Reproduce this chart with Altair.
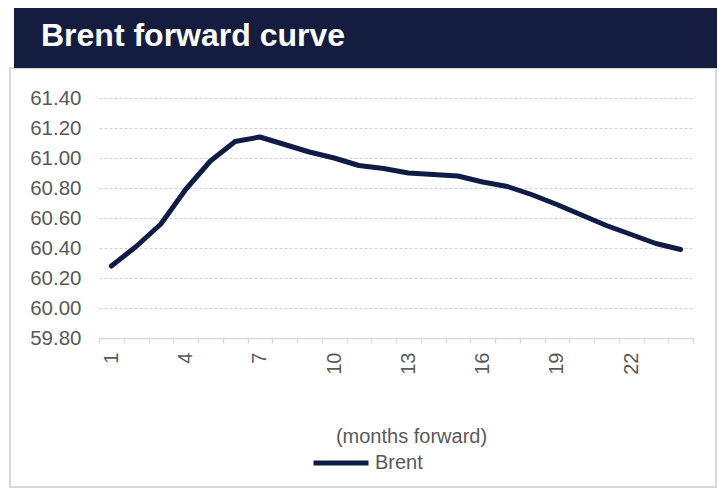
import altair as alt
import pandas as pd

TITLE = "Brent forward curve"
SERIES = "Brent"
X_TITLE = "(months forward)"
months = list(range(1, 25))
prices = [60.28, 60.41, 60.56, 60.79, 60.98, 61.11, 61.14, 61.09, 61.04, 61.00,
          60.95, 60.93, 60.90, 60.89, 60.88, 60.84, 60.81, 60.755, 60.69, 60.62,
          60.55, 60.49, 60.43, 60.39]
y_ticks = [59.8, 60.0, 60.2, 60.4, 60.6, 60.8, 61.0, 61.2, 61.4]
x_label_months = [1, 4, 7, 10, 13, 16, 19, 22]
x_tick_edges = [m - 0.5 for m in months] + [24.5]

df = pd.DataFrame({"month": months, "price": prices, "series": [SERIES] * len(months)})

FONT = "Liberation Sans"
GRAY = "#595959"
NAVY = "#141c40"
LINE = "#0f1c45"

label_set = "[" + ",".join(str(m) for m in x_label_months) + "]"

dummy = alt.Data(values=[{"t": TITLE}])

box = alt.Chart(dummy).mark_rect(fillOpacity=0, stroke="#d9d9d9", strokeWidth=2).encode(
    x=alt.value(-89), x2=alt.value(617), y=alt.value(-30), y2=alt.value(389)
)
banner = alt.Chart(dummy).mark_rect(color=NAVY).encode(
    x=alt.value(-85), x2=alt.value(618), y=alt.value(-90), y2=alt.value(-30)
)
title = alt.Chart(dummy).mark_text(
    align="left", baseline="alphabetic", font=FONT, fontSize=32, fontWeight="bold", color="white"
).encode(x=alt.value(-58), y=alt.value(-52), text="t:N")

line = alt.Chart(df).mark_line(strokeWidth=5, strokeCap="round", strokeJoin="round").encode(
    x=alt.X(
        "month:Q",
        scale=alt.Scale(domain=[0.5, 24.5], nice=False, zero=False),
        axis=alt.Axis(
            values=x_tick_edges,
            labelExpr=f"indexof({label_set}, datum.value + 0.5) >= 0 ? '' + (datum.value + 0.5) : ''",
            labelOffset=12.4,
            labelAngle=270,
            labelAlign="right",
            labelBaseline="middle",
            labelPadding=9,
            labelOverlap=False,
            labelFont=FONT,
            labelFontSize=20,
            labelColor=GRAY,
            tickSize=5,
            tickColor="#d9d9d9",
            tickWidth=1.5,
            domainColor="#d9d9d9",
            domainWidth=1.5,
            grid=False,
            title=X_TITLE,
            titleFont=FONT,
            titleFontSize=20,
            titleFontWeight="normal",
            titleColor=GRAY,
            titleX=312,
            titleY=98,
            titleAlign="center",
            titleBaseline="middle",
        ),
    ),
    y=alt.Y(
        "price:Q",
        scale=alt.Scale(domain=[59.8, 61.4], nice=False, zero=False),
        axis=alt.Axis(
            values=y_ticks,
            format=".2f",
            domain=False,
            ticks=False,
            tickSize=0,
            labelPadding=18,
            labelFont=FONT,
            labelFontSize=20.5,
            labelColor=GRAY,
            grid=True,
            gridColor="#d0d0d0",
            gridDash=[3, 2],
            gridWidth=1,
            title=None,
        ),
    ),
    color=alt.Color(
        "series:N",
        scale=alt.Scale(range=[LINE]),
        legend=alt.Legend(
            orient="none",
            legendX=212,
            legendY=335,
            title=None,
            symbolType="stroke",
            symbolSize=3025,
            symbolStrokeWidth=5,
            labelFont=FONT,
            labelFontSize=20,
            labelColor=GRAY,
            labelOffset=4,
            padding=0,
        ),
    ),
)

chart = alt.layer(box, banner, title, line).properties(
    width=594,
    height=240,
    padding={"left": 91, "top": 90, "right": 24, "bottom": 150},
    autosize=alt.AutoSizeParams(type="none"),
).configure_view(strokeWidth=0)

chart.save("out.html", embed_options={"renderer": "svg", "actions": False})
